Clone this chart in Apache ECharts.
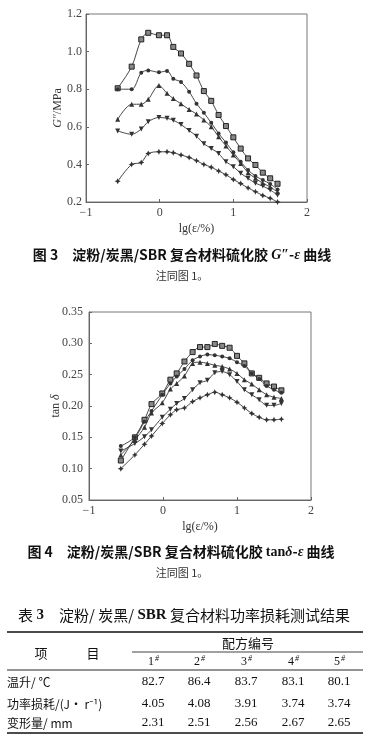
<!DOCTYPE html>
<html>
<head>
<meta charset="utf-8">
<script src="https://cdn.jsdelivr.net/npm/echarts@6/dist/echarts.min.js"></script>
<style>
html,body{margin:0;padding:0;background:#fff;}
#c{width:385px;height:739px;}
</style>
</head>
<body>
<div id="c"></div>
<script>
// lg(strain/%) values shared by all series
const lgX = [-0.57,-0.38,-0.25,-0.155,-0.01,0.10,0.185,0.29,0.40,0.50,0.60,0.70,0.80,0.90,1.00,1.10,1.20,1.30,1.40,1.50,1.60];

// Fig.3  G'' (MPa)
const g1 = [0.805,0.92,1.065,1.10,1.087,1.087,1.025,0.99,0.935,0.873,0.79,0.738,0.663,0.604,0.544,0.484,0.432,0.397,0.356,0.326,0.297];
const g2 = [0.80,0.80,0.888,0.90,0.89,0.897,0.856,0.838,0.787,0.723,0.675,0.621,0.565,0.516,0.464,0.414,0.37,0.338,0.317,0.296,0.267];
const g3 = [0.64,0.72,0.72,0.746,0.82,0.778,0.75,0.722,0.692,0.668,0.636,0.60,0.547,0.498,0.45,0.405,0.356,0.326,0.30,0.28,0.253];
const g4 = [0.578,0.56,0.588,0.627,0.65,0.645,0.635,0.612,0.58,0.55,0.51,0.485,0.458,0.414,0.388,0.353,0.326,0.30,0.285,0.264,0.237];
const g5 = [0.31,0.40,0.41,0.458,0.467,0.467,0.462,0.45,0.437,0.42,0.40,0.385,0.365,0.345,0.32,0.298,0.275,0.255,0.235,0.22,0.20];

// Fig.4  tan delta
const t1 = [0.113,0.150,0.178,0.203,0.220,0.242,0.252,0.271,0.286,0.294,0.294,0.299,0.296,0.293,0.280,0.268,0.252,0.245,0.236,0.231,0.225];
const t2 = [0.136,0.150,0.175,0.192,0.218,0.236,0.247,0.259,0.273,0.279,0.282,0.281,0.279,0.276,0.270,0.264,0.252,0.243,0.232,0.226,0.221];
const t3 = [0.122,0.146,0.166,0.189,0.205,0.227,0.236,0.248,0.268,0.270,0.268,0.265,0.263,0.259,0.252,0.242,0.235,0.226,0.218,0.214,0.212];
const t4 = [0.128,0.140,0.151,0.162,0.182,0.195,0.204,0.212,0.226,0.237,0.241,0.253,0.255,0.250,0.239,0.226,0.218,0.210,0.201,0.201,0.204];
const t5 = [0.100,0.122,0.139,0.152,0.172,0.186,0.194,0.197,0.207,0.213,0.218,0.222,0.218,0.213,0.206,0.197,0.188,0.182,0.178,0.178,0.179];

// captions / table text
const cap3 = '图 3　淀粉/炭黑/SBR 复合材料硫化胶 ';
const cap4 = '图 4　淀粉/炭黑/SBR 复合材料硫化胶 ';
const note = '注同图 1。';
const tableTitle = ['表 ', '3', '　淀粉/ 炭黑/ ', 'SBR', ' 复合材料功率损耗测试结果'];
const colGroup = '配方编号';
const itemHead = '项　　　目';
const formulas = ['1','2','3','4','5'];
const rowLabels = ['温升/ ℃', '功率损耗/(J• r⁻¹)', '变形量/ mm'];
const tempRise = [82.7, 86.4, 83.7, 83.1, 80.1];
const powerLoss = [4.05, 4.08, 3.91, 3.74, 3.74];
const deform = [2.31, 2.51, 2.56, 2.67, 2.65];

const serif = '"Liberation Serif","DejaVu Serif",serif';
const cjk = '"Noto Sans CJK SC","Noto Sans",sans-serif';
const ink = '#333';
const invTri = 'path://M0,0 L10,0 L5,9 Z';
const star = 'path://M5,0 L6.6,3.4 L10,5 L6.6,6.6 L5,10 L3.4,6.6 L0,5 L3.4,3.4 Z';

function mk(data, sym, size, idx, fill) {
  return {
    type: 'line', xAxisIndex: idx, yAxisIndex: idx,
    data: lgX.map((x, i) => [x, data[i]]),
    smooth: 0.3, symbol: sym, symbolSize: size, showSymbol: true,
    lineStyle: {color: ink, width: 0.9},
    itemStyle: {color: fill || ink, borderColor: '#222', borderWidth: fill ? 1 : 0},
    animation: false, z: 3
  };
}

const xFmt = v => (v < 0 ? '−' + Math.abs(v) : String(v));
function xAx(idx) {
  return {
    type: 'value', gridIndex: idx, min: -1, max: 2, interval: 1,
    name: 'lg(ε/%)', nameLocation: 'middle', nameGap: 21, nameMoveOverlap: false,
    nameTextStyle: {fontFamily: serif, fontSize: 12, color: '#333'},
    axisLine: {show: true, onZero: false, lineStyle: {color: '#666', width: 1}},
    axisTick: {show: true, inside: true, length: 3, lineStyle: {color: '#666'}},
    axisLabel: {formatter: xFmt, fontFamily: serif, fontSize: 12, color: '#444', margin: 5},
    splitLine: {show: false}
  };
}

const labelY = (idx, fixed, name, min, max, step, gap, margin) => ({
  type: 'value', gridIndex: idx, min: min, max: max, interval: step,
  name: name, nameLocation: 'middle', nameGap: gap, nameMoveOverlap: false,
  nameTextStyle: {fontFamily: serif, fontSize: 12, color: '#333',
    rich: {i: {fontFamily: serif, fontStyle: 'italic', fontSize: 12, color: '#333'}}},
  axisLine: {show: true, onZero: false, lineStyle: {color: '#666', width: 1}},
  axisTick: {show: true, inside: true, length: 3, lineStyle: {color: '#666'}},
  axisLabel: {formatter: v => v.toFixed(fixed), fontFamily: serif, fontSize: 12, color: '#444', margin: margin},
  splitLine: {show: false}
});

// table geometry helpers
const colX = [153, 199, 246, 293, 339];
const rowY = [682, 704, 723];
const graphic = [];
function txt(x, y, text, size, opts) {
  graphic.push(Object.assign({
    type: 'text', x: x, y: y,
    style: Object.assign({text: text, fontSize: size, fontFamily: cjk, fill: '#111',
      align: 'center', verticalAlign: 'middle'}, (opts && opts.style) || {})
  }, opts && opts.el || {}));
}
function hline(x1, x2, y, w) {
  graphic.push({type: 'line', shape: {x1: x1, y1: y, x2: x2, y2: y}, style: {stroke: '#111', lineWidth: w}});
}

// captions
graphic.push({type: 'text', x: 182, y: 255, style: {
  text: '{b|' + cap3 + '}{bi|G″}{b|-}{bi|ε}{b| 曲线}', align: 'center', verticalAlign: 'middle',
  rich: {b: {fontFamily: cjk, fontWeight: 'bold', fontSize: 14, fill: '#111'},
         bi: {fontFamily: serif, fontWeight: 'bold', fontStyle: 'italic', fontSize: 14, fill: '#111'}}}});
txt(182, 276, note, 11, {style: {fill: '#333'}});
graphic.push({type: 'text', x: 181, y: 552, style: {
  text: '{b|' + cap4 + '}{bs|tan}{bi|δ}{b|-}{bi|ε}{b| 曲线}', align: 'center', verticalAlign: 'middle',
  rich: {b: {fontFamily: cjk, fontWeight: 'bold', fontSize: 14, fill: '#111'},
         bs: {fontFamily: serif, fontWeight: 'bold', fontSize: 14, fill: '#111'},
         bi: {fontFamily: serif, fontWeight: 'bold', fontStyle: 'italic', fontSize: 14, fill: '#111'}}}});
txt(182, 573, note, 11, {style: {fill: '#333'}});

// table
graphic.push({type: 'text', x: 184, y: 615, style: {
  text: '{n|' + tableTitle[0] + '}{b|' + tableTitle[1] + '}{n|' + tableTitle[2] + '}{b|' + tableTitle[3] + '}{n|' + tableTitle[4] + '}',
  align: 'center', verticalAlign: 'middle',
  rich: {n: {fontFamily: cjk, fontSize: 15, fill: '#111'},
         b: {fontFamily: serif, fontWeight: 'bold', fontSize: 15, fill: '#111'}}}});
hline(7, 363, 632, 1.6);
txt(248, 643, colGroup, 13);
hline(132, 363, 652, 0.8);
txt(67, 653, itemHead, 13);
formulas.forEach((f, i) => {
  txt(colX[i] - 2, 662, f, 12, {style: {fontFamily: serif}});
  txt(colX[i] + 4, 659, '#', 8, {style: {fontFamily: serif, fontStyle: 'italic'}});
});
hline(7, 363, 670, 0.9);
rowLabels.forEach((r, i) => txt(7, rowY[i], r, 12, {style: {align: 'left', fontFamily: cjk}}));
[tempRise, powerLoss, deform].forEach((row, ri) => {
  row.forEach((v, ci) => txt(colX[ci], rowY[ri], ri === 0 ? v.toFixed(1) : v.toFixed(2), 13, {style: {fontFamily: serif}}));
});
hline(7, 363, 733, 1.6);

const chart = echarts.init(document.getElementById('c'), null, {renderer: 'canvas'});
chart.setOption({
  backgroundColor: '#fff',
  animation: false,
  grid: [
    {left: 86, top: 14, width: 221, height: 188, show: true, borderColor: '#777', borderWidth: 1},
    {left: 89, top: 312, width: 222, height: 188, show: true, borderColor: '#777', borderWidth: 1}
  ],
  xAxis: [xAx(0), xAx(1)],
  yAxis: [
    labelY(0, 1, '{i|G″}/MPa', 0.2, 1.2, 0.2, 22, 4),
    labelY(1, 2, 'tan {i|δ}', 0.05, 0.35, 0.05, 27, 6)
  ],
  series: [
    mk(g1, 'rect', 5, 0, '#888'), mk(g2, 'circle', 4, 0), mk(g3, 'triangle', 5, 0), mk(g4, invTri, 5, 0), mk(g5, star, 6, 0),
    mk(t1, 'rect', 5, 1, '#888'), mk(t2, 'circle', 4, 1), mk(t3, 'triangle', 5, 1), mk(t4, invTri, 5, 1), mk(t5, star, 6, 1)
  ],
  graphic: graphic
});
</script>
</body>
</html>
